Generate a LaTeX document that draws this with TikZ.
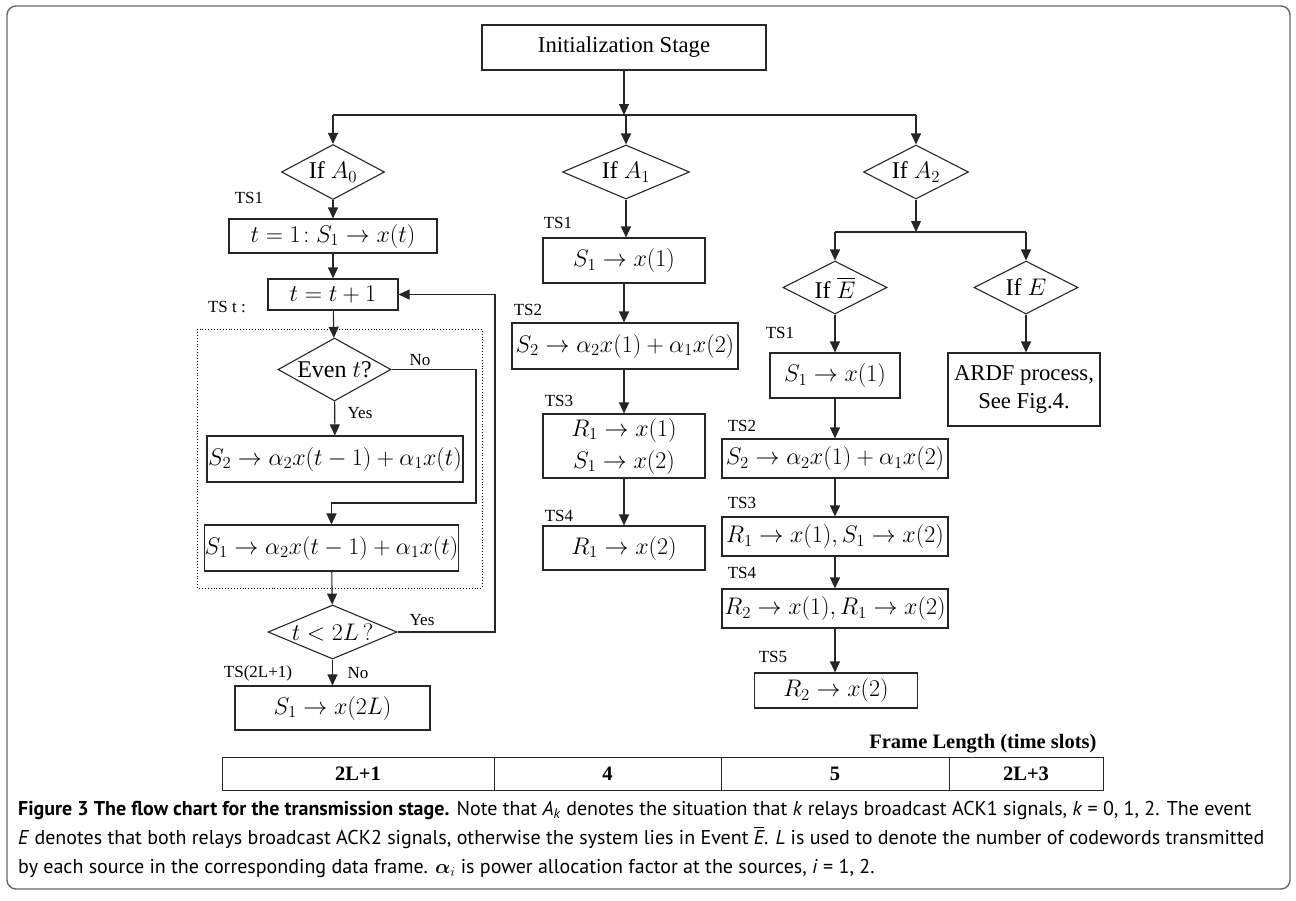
\documentclass[tikz,border=0pt]{standalone}
\usepackage{fix-cm}
\usepackage{amsmath}
\usepackage{fontspec}
\setmainfont{Liberation Serif}
\newfontfamily\capsans{PT Sans}
\usetikzlibrary{arrows.meta,positioning,shapes.geometric}

\newcommand{\boxfont}{\fontsize{22.7}{27}\selectfont}
\newcommand{\eqfont}{\fontsize{24}{30}\selectfont}
\newcommand{\iffont}{\fontsize{24}{28}\selectfont}
\newcommand{\slotfont}{\fontsize{17}{20}\selectfont}
\newcommand{\tabfont}{\fontsize{20.5}{24}\selectfont\bfseries}
\newcommand{\capfont}{\capsans\fontsize{20}{29}\selectfont}

\tikzset{
  stagebox/.style={draw=black!85, line width=1.1pt, inner sep=0pt, font=\eqfont, align=center},
  cond/.style 2 args={diamond, draw=black!85, line width=1.1pt, inner sep=0pt, minimum width=#1, minimum height=#2},
  slot/.style={font=\slotfont, inner sep=0pt},
  flow/.style={draw=black!85, line width=1.1pt, -{Triangle[length=11pt,width=10pt]}},
  link/.style={draw=black!85, line width=1.1pt},
  cell/.style={draw=black!85, line width=1pt, minimum height=33pt, inner sep=0pt, outer sep=0pt, font=\tabfont},
}

\begin{document}
\begin{tikzpicture}[x=1pt, y=-1pt]
\useasboundingbox (0,0) rectangle (1296,900);
\draw[rounded corners=9pt, draw=black!60, line width=1.4pt] (7,6) rectangle (1290,889);

% initialization and the three branches
\node[stagebox, font=\boxfont, minimum width=284pt, minimum height=45pt] (init) at (624,47.5) {Initialization Stage};
\coordinate (split) at (624,115);
\node[cond={103pt}{55pt}, label={[font=\iffont]center:If $A_0$}] (a0) at (333,172) {};
\node[cond={127pt}{54pt}, label={[font=\iffont]center:If $A_1$}] (a1) at (626,172) {};
\node[cond={105pt}{54pt}, label={[font=\iffont]center:If $A_2$}] (a2) at (916,172) {};

% branch A0
\node[slot] (ts1a) at (249,198) {TS1};
\node[stagebox, minimum width=208pt, minimum height=34pt] (t1) at (333,236) {$t=1\!:S_1\rightarrow x(t)$};
\node[stagebox, minimum width=130pt, minimum height=31pt] (tinc) at (333,294.5) {$t=t+1$};
\node[slot] (tst) at (227,307) {TS t :};
\draw[dotted, line width=0.9pt] (197,329) rectangle (482,588);
\node[cond={113pt}{63pt}, label={[font=\iffont]center:Even $t$?}] (even) at (334.5,369.5) {};
\node[slot] (no1) at (420,360) {No};
\node[slot] (yes1) at (360,413) {Yes};
\node[stagebox, minimum width=256pt, minimum height=46pt] (s2t) at (335,459) {$S_2\rightarrow\alpha_2x(t-1)+\alpha_1x(t)$};
\coordinate (nobend) at (476,503);
\node[stagebox, minimum width=249pt, minimum height=46pt] (s1t) at (331.5,548) {$S_1\rightarrow\alpha_2x(t-1)+\alpha_1x(t)$};
\node[cond={129pt}{54pt}, label={[font=\iffont]center:$t<2L\,?$}] (lt) at (332.5,632) {};
\node[slot] (yes2) at (422,620) {Yes};
\coordinate (loop) at (495,0);
\node[slot] (ts2l) at (258,673) {TS(2L+1)};
\node[slot] (no2) at (358,673) {No};
\node[stagebox, minimum width=195pt, minimum height=44pt] (s1L) at (332.5,708) {$S_1\rightarrow x(2L)$};

% branch A1
\node[slot] (ts1b) at (558,223) {TS1};
\node[stagebox, minimum width=162pt, minimum height=45pt] (m1) at (624,260.5) {$S_1\rightarrow x(1)$};
\node[slot] (ts2b) at (528,310) {TS2};
\node[stagebox, minimum width=226pt, minimum height=46pt] (m2) at (625,346) {$S_2\rightarrow\alpha_2x(1)+\alpha_1x(2)$};
\node[slot] (ts3b) at (559,401) {TS3};
\node[stagebox, minimum width=162pt, minimum height=64pt, font=\fontsize{24}{32}\selectfont] (m3) at (624,446) {$R_1\rightarrow x(1)$\\$S_1\rightarrow x(2)$};
\node[slot] (ts4b) at (559,516) {TS4};
\node[stagebox, minimum width=162pt, minimum height=44pt] (m4) at (624,548) {$R_1\rightarrow x(2)$};

% branch A2
\coordinate (split2) at (916,232);
\node[cond={104pt}{53pt}, label={[font=\iffont]center:If $\overline{E}$}] (eb) at (835,287.5) {};
\node[cond={104pt}{53pt}, label={[font=\iffont]center:If $E$}] (ee) at (1026,287.5) {};
\node[slot] (ts1c) at (780,333) {TS1};
\node[stagebox, minimum width=130pt, minimum height=45pt] (r1) at (835,375.5) {$S_1\rightarrow x(1)$};
\node[stagebox, minimum width=152pt, minimum height=73pt, font=\fontsize{22.7}{28}\selectfont] (ardf) at (1024,389.5) {ARDF process,\\See Fig.4.};
\node[slot] (ts2c) at (742,426) {TS2};
\node[stagebox, minimum width=226pt, minimum height=39pt] (r2) at (835,458.5) {$S_2\rightarrow\alpha_2x(1)+\alpha_1x(2)$};
\node[slot] (ts3c) at (742,503) {TS3};
\node[stagebox, minimum width=226pt, minimum height=39pt] (r3) at (835,536.5) {$R_1\rightarrow x(1), S_1\rightarrow x(2)$};
\node[slot] (ts4c) at (742,573) {TS4};
\node[stagebox, minimum width=226pt, minimum height=39pt] (r4) at (835,608.5) {$R_2\rightarrow x(1), R_1\rightarrow x(2)$};
\node[slot] (ts5c) at (773,657) {TS5};
\node[stagebox, minimum width=163pt, minimum height=35pt] (r5) at (836,690.5) {$R_2\rightarrow x(2)$};

% connectors
\draw[flow] (init.south -| split) -- (split);
\draw[link] (a0.north |- split) -- (a2.north |- split);
\draw[flow] (a0.north |- split) -- (a0);
\draw[flow] (a1.north |- split) -- (a1);
\draw[flow] (a2.north |- split) -- (a2);
\draw[flow] (a0) -- (t1);
\draw[flow] (t1) -- (tinc);
\draw[flow] (tinc) -- (even);
\draw[flow] (even) -- (s2t);
\draw[flow] (even.east) -| (nobend) -| (s1t.north);
\draw[flow] (s1t) -- (lt);
\draw[flow] (lt.east) -| (loop |- tinc.east) -- (tinc.east);
\draw[flow] (lt) -- (s1L);
\draw[flow] (a1.south) -- (a1.south |- m1.north);
\draw[flow] (m1) -- (m1 |- m2.north);
\draw[flow] (m1 |- m2.south) -- (m3);
\draw[flow] (m3) -- (m4);
\draw[flow] (a2) -- (split2);
\draw[link] (eb.north |- split2) -- (ee.north |- split2);
\draw[flow] (eb.north |- split2) -- (eb);
\draw[flow] (ee.north |- split2) -- (ee);
\draw[flow] (eb) -- (r1);
\draw[flow] (r1) -- (r2);
\draw[flow] (r2) -- (r3);
\draw[flow] (r3) -- (r4);
\draw[flow] (r4) -- (r4 |- r5.north);
\draw[flow] (ee.south) -- (ee.south |- ardf.north);

% frame length table
\node[anchor=base east, font=\tabfont] (flen) at (1100,748) {Frame Length (time slots)};
\node[cell, minimum width=272pt] (c1) at (358,773.5) {2L+1};
\node[cell, minimum width=227pt, right=0pt of c1] (c2) {4};
\node[cell, minimum width=228pt, right=0pt of c2] (c3) {5};
\node[cell, minimum width=154pt, right=0pt of c3] (c4) {2L+3};

% caption
\node[anchor=base west, font=\capfont, inner sep=0pt] (cap1) at (18,815) {\textbf{Figure 3 The flow chart for the transmission stage.} Note that \textit{A}\textsubscript{\textit{k}} denotes the situation that \textit{k} relays broadcast ACK1 signals, \textit{k} = 0, 1, 2. The event};
\node[anchor=base west, font=\capfont, inner sep=0pt] (cap2) at (18,844) {\textit{E} denotes that both relays broadcast ACK2 signals, otherwise the system lies in Event $\overline{\textit{E}}$. \textit{L} is used to denote the number of codewords transmitted};
\node[anchor=base west, font=\capfont, inner sep=0pt] (cap3) at (18,873) {by each source in the corresponding data frame. $\boldsymbol{\alpha}_i$ is power allocation factor at the sources, \textit{i} = 1, 2.};
\end{tikzpicture}
\end{document}
